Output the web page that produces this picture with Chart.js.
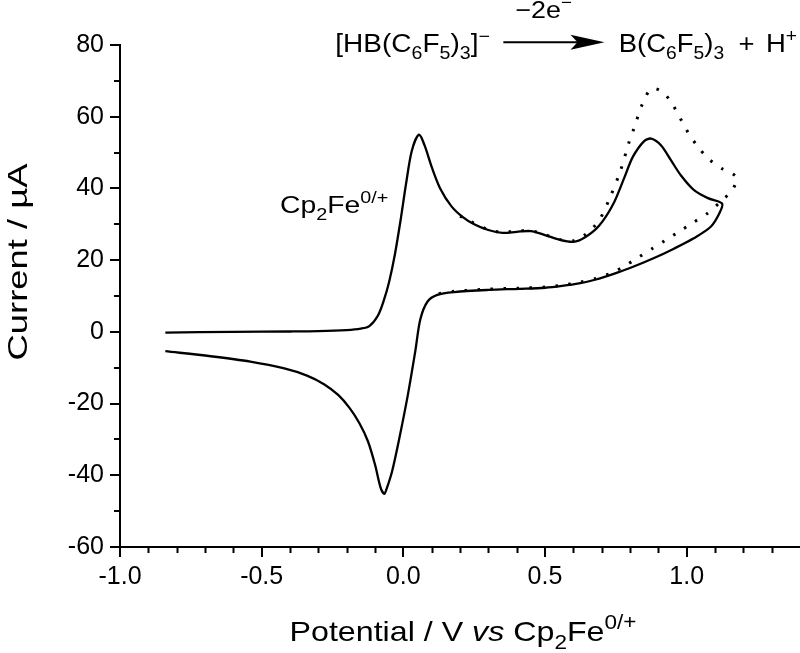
<!DOCTYPE html>
<html>
<head>
<meta charset="utf-8">
<script src="https://cdn.jsdelivr.net/npm/chart.js@4/dist/chart.umd.min.js"></script>
<style>
  html, body { margin: 0; padding: 0; background: #fff; }
  canvas { display: block; }
</style>
</head>
<body>
<canvas id="cv" width="800" height="653"></canvas>
<script>
// solid scan: forward sweep to the switching potential, then back
const solidX = [
  -0.84, -0.6, -0.4, -0.3, -0.2, -0.15, -0.12, -0.09, -0.07, -0.05, -0.03, -0.01,
  0.01, 0.03, 0.055, 0.075, 0.1, 0.13, 0.17, 0.21, 0.25, 0.3, 0.35, 0.4, 0.45,
  0.5, 0.55, 0.6, 0.64, 0.69, 0.74, 0.78, 0.81, 0.85, 0.875, 0.91, 0.945, 0.98,
  1.025, 1.075, 1.125,
  1.115, 1.085, 1.025, 0.955, 0.885, 0.8, 0.74, 0.68, 0.62, 0.56, 0.5, 0.41,
  0.3, 0.18, 0.12, 0.085, 0.06, 0.042, 0.015, -0.015, -0.04, -0.06, -0.067,
  -0.08, -0.1, -0.125, -0.155, -0.19, -0.23, -0.28, -0.34, -0.42, -0.54, -0.68, -0.84
];
const solidY = [
  -0.2, 0.0, 0.1, 0.2, 0.5, 0.9, 1.6, 4.5, 8.5, 14, 21.5, 31,
  41.5, 50.5, 55, 52, 46, 40, 35, 32, 30, 28.4, 27.6, 27.9, 28.1,
  27.0, 25.7, 25.1, 26.3, 29.5, 35.5, 43, 48.8, 53.2, 53.9, 52, 47.8, 43.6,
  39.6, 37.3, 35.8,
  33.0, 29.3, 26.1, 23.2, 20.6, 17.8, 16.1, 14.6, 13.5, 12.8, 12.3, 12.0,
  11.7, 11.1, 10.3, 8.4, 3.5, -5.5, -18, -30, -39, -44, -45.2,
  -43.5, -37, -30.5, -25.5, -21.2, -17.6, -14.6, -12.2, -10.2, -8.3, -6.8, -5.4
];

// dotted scan (only the part that separates from the solid one)
const dottedX = [
  0.2, 0.3, 0.35, 0.4, 0.45, 0.5, 0.55, 0.6, 0.64, 0.69, 0.73, 0.767, 0.795,
  0.815, 0.845, 0.876, 0.915, 0.951, 1.004, 1.04, 1.078, 1.127, 1.175,
  1.163, 1.12, 1.071, 1.021, 0.972, 0.926, 0.88, 0.83, 0.784, 0.739, 0.68,
  0.62, 0.56, 0.5, 0.41, 0.3, 0.18, 0.12
];
const dottedY = [
  32.3, 28.5, 27.8, 28.1, 28.2, 27.1, 25.8, 25.4, 27, 31, 37.6, 45.1, 52.5,
  57, 63.8, 67.8, 66.9, 63.3, 55.7, 51.6, 48.2, 45.4, 43.2,
  39.8, 36.3, 32.9, 30.4, 27.9, 25.6, 23.3, 20.8, 18.5, 16.6, 14.9,
  13.8, 13.0, 12.5, 12.2, 11.9, 11.3, 10.6
];

const xTicks = [-1.0, -0.5, 0.0, 0.5, 1.0];
const yTicks = [-60, -40, -20, 0, 20, 40, 60, 80];

const FONT = "'Liberation Sans', Arial, Helvetica, sans-serif";

// draw text made of pieces, with sub/superscripts; sx stretches along the text
function richWidth(ctx, parts, size) {
  let w = 0;
  parts.forEach((p) => {
    const s = p.sub || p.sup ? size * 0.7 : size;
    ctx.font = (p.it ? "italic " : "") + s + "px " + FONT;
    w += ctx.measureText(p.t).width;
  });
  return w;
}
function drawRich(ctx, parts, x, y, size, sx, align) {
  ctx.save();
  ctx.translate(x, y);
  ctx.scale(sx, 1);
  let cx = 0;
  if (align === "center") cx = -richWidth(ctx, parts, size) / 2;
  ctx.fillStyle = "#000";
  ctx.textBaseline = "alphabetic";
  ctx.textAlign = "left";
  parts.forEach((p) => {
    const s = p.sub || p.sup ? size * 0.7 : size;
    ctx.font = (p.it ? "italic " : "") + s + "px " + FONT;
    let dy = 0;
    if (p.sub) dy = size * 0.28;
    if (p.sup) dy = -size * 0.42;
    ctx.fillText(p.t, cx, dy);
    cx += ctx.measureText(p.t).width;
  });
  ctx.restore();
}

const extras = {
  id: "extras",
  afterDraw(chart) {
    const ctx = chart.ctx;
    const xs = chart.scales.x;
    const ys = chart.scales.y;
    const area = chart.chartArea;

    // minor ticks
    ctx.save();
    ctx.strokeStyle = "#000";
    ctx.lineWidth = 2;
    ctx.beginPath();
    for (let i = -9; i <= 13; i++) {
      if (i % 5 === 0) continue;
      const px = Math.round(xs.getPixelForValue(i / 10)) + 0.5;
      ctx.moveTo(px, area.bottom);
      ctx.lineTo(px, area.bottom + 6);
    }
    for (let v = -50; v <= 70; v += 20) {
      const py = Math.round(ys.getPixelForValue(v));
      ctx.moveTo(area.left, py);
      ctx.lineTo(area.left - 6, py);
    }
    ctx.stroke();
    ctx.restore();

    // axis titles
    drawRich(ctx, [
      { t: "Potential / V " }, { t: "vs", it: true }, { t: " Cp" }, { t: "2", sub: true },
      { t: "Fe" }, { t: "0/+", sup: true }
    ], 463, 641, 28, 1.15, "center");

    ctx.save();
    ctx.translate(27, 262);
    ctx.rotate(-Math.PI / 2);
    drawRich(ctx, [{ t: "Current / µA" }], 0, 0, 28, 1.3, "center");
    ctx.restore();

    // ferrocene label
    drawRich(ctx, [{ t: "Cp" }, { t: "2", sub: true }, { t: "Fe" }, { t: "0/+", sup: true }],
      xs.getPixelForValue(-0.435), ys.getPixelForValue(33.2), 24, 1.18, "left");

    // reaction scheme
    const base = ys.getPixelForValue(78);
    drawRich(ctx, [
      { t: "[HB(C" }, { t: "6", sub: true }, { t: "F" }, { t: "5", sub: true }, { t: ")" },
      { t: "3", sub: true }, { t: "]" }, { t: "\u2212", sup: true }
    ], xs.getPixelForValue(-0.24), base, 25, 1.12, "left");
    drawRich(ctx, [
      { t: "B(C" }, { t: "6", sub: true }, { t: "F" }, { t: "5", sub: true }, { t: ")" },
      { t: "3", sub: true }
    ], xs.getPixelForValue(0.76), base, 25, 1.1, "left");
    drawRich(ctx, [{ t: "+" }], xs.getPixelForValue(1.183), base, 25, 1.1, "left");
    drawRich(ctx, [{ t: "H" }, { t: "+", sup: true }], xs.getPixelForValue(1.28), base, 25, 1.1, "left");
    drawRich(ctx, [{ t: "\u22122e" }, { t: "\u2212", sup: true }],
      xs.getPixelForValue(0.495), ys.getPixelForValue(87.6), 24, 1.12, "center");

    // arrow
    const ax0 = xs.getPixelForValue(0.353);
    const ax1 = xs.getPixelForValue(0.71);
    const ay = ys.getPixelForValue(80.8);
    ctx.save();
    ctx.strokeStyle = "#000";
    ctx.fillStyle = "#000";
    ctx.lineWidth = 2;
    ctx.beginPath();
    ctx.moveTo(ax0, ay);
    ctx.lineTo(ax1 - 20, ay);
    ctx.stroke();
    ctx.beginPath();
    ctx.moveTo(ax1, ay);
    ctx.lineTo(ax1 - 34, ay - 7.5);
    ctx.lineTo(ax1 - 27, ay);
    ctx.lineTo(ax1 - 34, ay + 7.5);
    ctx.closePath();
    ctx.fill();
    ctx.restore();
  },
};

const toPoints = (xsArr, ysArr) => xsArr.map((x, i) => ({ x: x, y: ysArr[i] }));

new Chart(document.getElementById("cv").getContext("2d"), {
  type: "scatter",
  data: {
    datasets: [
      {
        label: "solid",
        data: toPoints(solidX, solidY),
        showLine: true,
        borderColor: "#000",
        borderWidth: 2.3,
        pointRadius: 0,
        tension: 0.3,
        order: 0,
      },
      {
        label: "dotted",
        data: toPoints(dottedX, dottedY),
        showLine: true,
        borderColor: "#000",
        borderWidth: 3,
        borderDash: [2.5, 10.5],
        pointRadius: 0,
        tension: 0.3,
        order: 1,
      },
    ],
  },
  options: {
    responsive: false,
    animation: false,
    layout: { padding: { top: 45, left: 0, right: 0, bottom: 0 } },
    plugins: {
      legend: { display: false },
      tooltip: { enabled: false },
    },
    scales: {
      x: {
        type: "linear",
        min: -1.0,
        max: 1.4,
        afterBuildTicks: (s) => { s.ticks = xTicks.map((v) => ({ value: v })); },
        afterFit: (s) => { s.height = 106; },
        ticks: {
          callback: (v) => v.toFixed(1),
          font: { family: FONT, size: 25 },
          color: "#000",
          padding: 5,
          maxRotation: 0,
          autoSkip: false,
        },
        grid: {
          drawOnChartArea: false,
          drawTicks: true,
          tickLength: 10,
          lineWidth: 2,
          color: "#000",
        },
        border: { display: true, width: 2, color: "#000" },
      },
      y: {
        type: "linear",
        min: -60,
        max: 80,
        afterBuildTicks: (s) => { s.ticks = yTicks.map((v) => ({ value: v })); },
        afterFit: (s) => { s.width = 120; },
        ticks: {
          font: { family: FONT, size: 25 },
          color: "#000",
          padding: 6,
          autoSkip: false,
        },
        grid: {
          drawOnChartArea: false,
          drawTicks: true,
          tickLength: 10,
          lineWidth: 2,
          color: "#000",
        },
        border: { display: true, width: 2, color: "#000" },
      },
    },
  },
  plugins: [extras],
});
</script>
</body>
</html>
